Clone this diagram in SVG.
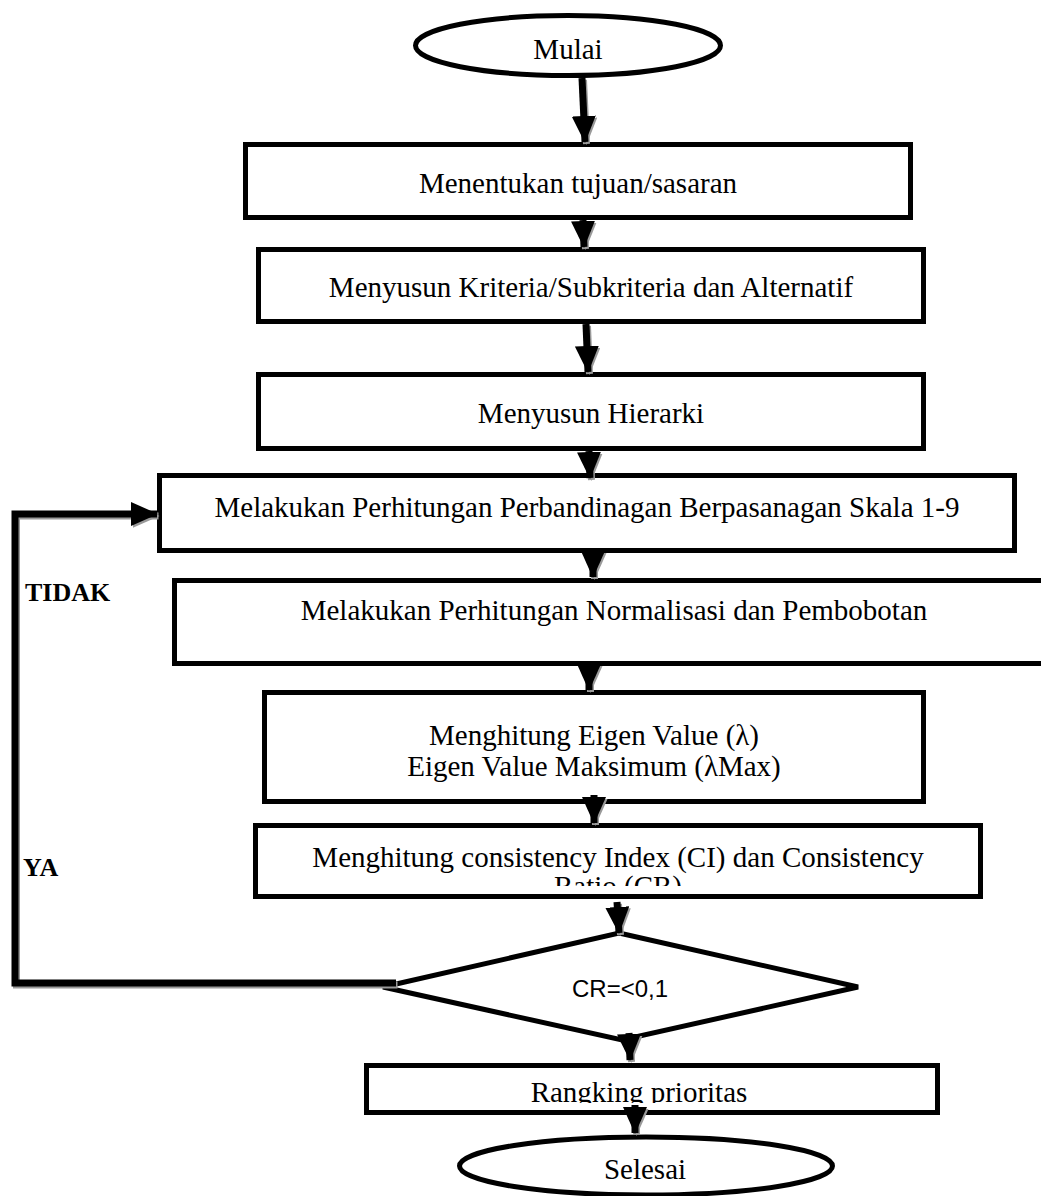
<svg xmlns="http://www.w3.org/2000/svg" width="1041" height="1196" viewBox="0 0 1041 1196">
<style>
.box{fill:#fff;stroke:#000;stroke-width:5}
.t{font-family:"Liberation Serif","Times New Roman",serif;font-size:29px;fill:#000;text-anchor:middle}
.lbl{font-family:"Liberation Serif","Times New Roman",serif;font-size:26px;font-weight:bold;fill:#000}
.cr{font-family:"Liberation Sans",Arial,sans-serif;font-size:24px;fill:#000;text-anchor:middle}
.c{fill:none;stroke:#000;stroke-width:7}
.cs{fill:none;stroke:#9a9a9a;stroke-width:7}
</style>
<defs>
<marker id="ah" markerUnits="userSpaceOnUse" viewBox="0 0 27 24" markerWidth="27" markerHeight="24" refX="26" refY="12" orient="auto"><path d="M0,0 L27,12 L0,24 Z" fill="#000"/></marker>
<marker id="ahs" markerUnits="userSpaceOnUse" viewBox="0 0 27 24" markerWidth="27" markerHeight="24" refX="26" refY="12" orient="auto"><path d="M0,0 L27,12 L0,24 Z" fill="#9a9a9a"/></marker>
<clipPath id="clip7"><rect x="258" y="828" width="720" height="58"/></clipPath>
<clipPath id="clip8"><rect x="369" y="1068" width="566" height="35"/></clipPath>
</defs>
<rect width="1041" height="1196" fill="#fff"/>

<g id="mulai"><ellipse cx="568" cy="45.5" rx="152.5" ry="30" class="box"/><text x="568" y="59" class="t">Mulai</text></g>
<g id="tujuan"><rect x="245.5" y="144.5" width="665" height="73" class="box"/><text x="578" y="193" class="t">Menentukan tujuan/sasaran</text></g>
<g id="kriteria"><rect x="258.5" y="249.5" width="665" height="72" class="box"/><text x="591" y="297" class="t">Menyusun Kriteria/Subkriteria dan Alternatif</text></g>
<g id="hierarki"><rect x="258.5" y="374.5" width="665" height="74" class="box"/><text x="591" y="423" class="t">Menyusun Hierarki</text></g>
<g id="perbandingan"><rect x="159.5" y="475.5" width="855" height="75" class="box"/><text x="587" y="517" class="t">Melakukan Perhitungan Perbandinagan Berpasanagan Skala 1-9</text></g>
<g id="normalisasi"><rect x="174.5" y="580.5" width="880" height="83" class="box"/><text x="614" y="620" class="t">Melakukan Perhitungan Normalisasi dan Pembobotan</text></g>
<g id="eigen"><rect x="264.5" y="692.5" width="659" height="109" class="box"/><text x="594" y="745" class="t">Menghitung Eigen Value (λ)</text><text x="594" y="776" class="t">Eigen Value Maksimum (λMax)</text></g>
<g id="ci"><rect x="255.5" y="825.5" width="725" height="71" class="box"/><g clip-path="url(#clip7)"><text x="618" y="867" class="t">Menghitung consistency Index (CI) dan Consistency</text><text x="618" y="896" class="t">Ratio (CR)</text></g></g>
<g id="cr"><path d="M619,933 L858,987 L622,1040 L383,987 Z" class="box"/><text x="620" y="997" class="cr">CR=&lt;0,1</text></g>
<g id="rangking"><rect x="366.5" y="1065.5" width="571" height="47" class="box"/><g clip-path="url(#clip8)"><text x="639" y="1102" class="t">Rangking prioritas</text></g></g>
<g id="selesai"><ellipse cx="646" cy="1166" rx="186.5" ry="29" class="box"/><text x="645" y="1179" class="t">Selesai</text></g>

<g id="labels"><text x="25" y="601" class="lbl">TIDAK</text><text x="23" y="876" class="lbl">YA</text></g>

<g id="connectors-shadow" transform="translate(1.5,2)">
<path d="M582,78 L585,142" class="cs" marker-end="url(#ahs)"/>
<path d="M583,220 L584,247" class="cs" marker-end="url(#ahs)"/>
<path d="M586,324 L588,372" class="cs" marker-end="url(#ahs)"/>
<path d="M589,451 L590,478" class="cs" marker-end="url(#ahs)"/>
<path d="M593,550 L593,577" class="cs" marker-end="url(#ahs)"/>
<path d="M589,663 L589,690" class="cs" marker-end="url(#ahs)"/>
<path d="M594,795 L594,823" class="cs" marker-end="url(#ahs)"/>
<path d="M617,902 L619,933" class="cs" marker-end="url(#ahs)"/>
<path d="M629,1033 L630,1060" class="cs" marker-end="url(#ahs)"/>
<path d="M635,1105 L635,1133" class="cs" marker-end="url(#ahs)"/>
<path d="M396,983 L15,983 L15,514 L157,514" class="cs" marker-end="url(#ahs)"/>
</g>
<g id="connectors">
<path d="M582,78 L585,142" class="c" marker-end="url(#ah)"/>
<path d="M583,220 L584,247" class="c" marker-end="url(#ah)"/>
<path d="M586,324 L588,372" class="c" marker-end="url(#ah)"/>
<path d="M589,451 L590,478" class="c" marker-end="url(#ah)"/>
<path d="M593,550 L593,577" class="c" marker-end="url(#ah)"/>
<path d="M589,663 L589,690" class="c" marker-end="url(#ah)"/>
<path d="M594,795 L594,823" class="c" marker-end="url(#ah)"/>
<path d="M617,902 L619,933" class="c" marker-end="url(#ah)"/>
<path d="M629,1033 L630,1060" class="c" marker-end="url(#ah)"/>
<path d="M635,1105 L635,1133" class="c" marker-end="url(#ah)"/>
<path d="M396,983 L15,983 L15,514 L157,514" class="c" marker-end="url(#ah)"/>
</g>
</svg>
